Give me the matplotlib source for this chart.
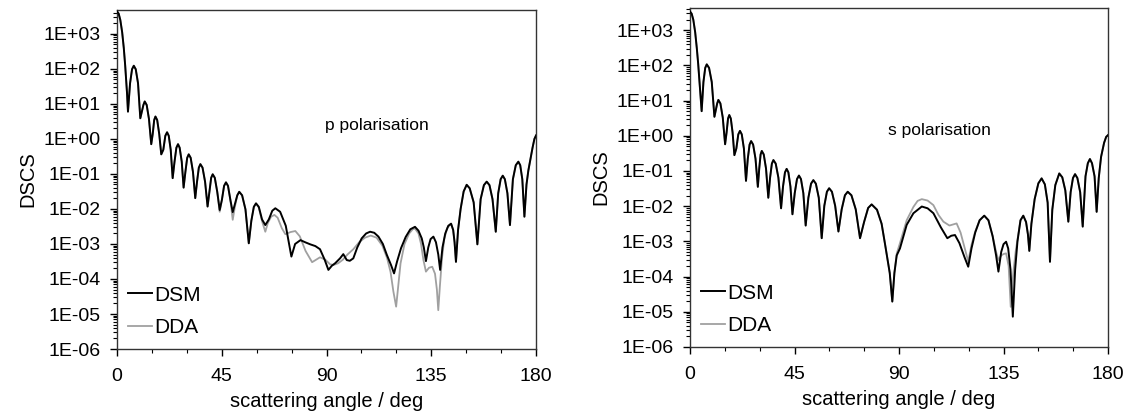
import numpy as np
import matplotlib
matplotlib.use("Agg")
import matplotlib.pyplot as plt
from matplotlib.ticker import FixedLocator, LogLocator, NullFormatter, MultipleLocator

# ---- values: angle in deg, DSCS given as log10 ----
# p polarisation, DSM
p_dsm_ang = [0.0, 0.7, 1.4, 2.2, 2.9, 3.5, 3.9, 4.3, 4.7, 5.6, 6.45, 7.2, 8.04, 9.02, 10.0,
             11.33, 11.9, 12.74, 13.72, 14.7, 15.33, 15.96, 16.5, 17.25, 18.13, 19.0,
             19.88, 20.75, 21.5, 22.22, 23.06, 23.9, 24.7, 25.5, 26.2, 26.9, 27.8, 28.6,
             29.37, 30.14, 30.8, 31.64, 32.62, 33.6, 34.37, 35.14, 35.8, 36.73, 37.82, 38.9,
             39.67, 40.44, 41.1, 42.0, 43.05, 44.1, 45.05, 45.99, 46.8, 47.67, 48.69, 49.7,
             51.66, 52.5, 53.73, 55.17, 56.6, 57.69, 58.77, 59.7, 60.9, 62.3, 63.7,
             65.2, 66.7, 68.0, 70.07, 72.49, 74.9, 76.5, 78.8, 80.8, 83.0, 85.2, 87.2, 89.2,
             90.8, 92.3, 93.7, 95.8, 97.2, 98.7, 100.0, 101.5, 103.2, 105.1, 107.0, 108.7,
             110.5, 112.3, 114.2, 115.9, 117.7, 119.0, 120.3, 122.0, 124.0, 126.0, 128.0,
             129.5, 130.9, 131.8, 132.7, 133.7, 134.7, 135.9, 137.0, 138.0, 138.8, 139.8,
             141.0, 142.3, 143.5, 144.4, 145.0, 145.6, 146.5, 147.6, 148.9, 150.2, 151.5,
             153.2, 154.8, 156.2, 157.6, 158.8, 160.0, 161.3, 162.7, 163.75, 164.8, 165.7,
             166.6, 167.7, 168.8, 170.06, 171.3, 172.4, 173.2, 174.1, 175.0, 175.9, 176.7,
             177.4, 178.5, 179.3, 180.0]
p_dsm_log = [3.64, 3.58, 3.40, 3.05, 2.60, 2.10, 1.70, 1.30, 0.78, 1.59, 1.99, 2.09, 1.99, 1.59, 0.59,
             0.97, 1.07, 0.97, 0.57, -0.15, 0.14, 0.54, 0.64, 0.54, 0.14, -0.44,
             -0.31, 0.09, 0.19, 0.09, -0.31, -1.12, -0.65, -0.25, -0.15, -0.25, -0.65, -1.39,
             -0.94, -0.54, -0.44, -0.54, -0.94, -1.69, -1.22, -0.82, -0.72, -0.82, -1.22, -1.93,
             -1.51, -1.11, -1.01, -1.11, -1.51, -2.03, -1.74, -1.34, -1.24, -1.34, -1.74, -2.09,
             -1.61, -1.51, -1.61, -2.01, -2.98, -2.34, -1.94, -1.84, -1.94, -2.30, -2.46,
             -2.30, -2.05, -1.98, -2.08, -2.48, -3.36, -3.00, -2.89, -2.95, -3.01, -3.06, -3.15,
             -3.45, -3.74, -3.62, -3.55, -3.41, -3.29, -3.46, -3.48, -3.41, -3.10, -2.84,
             -2.70, -2.65, -2.68, -2.79, -3.00, -3.31, -3.60, -3.84, -3.50, -3.12, -2.80,
             -2.58, -2.51, -2.62, -2.84, -3.10, -3.49, -3.10, -2.86, -2.79, -2.95, -3.30,
             -3.74, -3.10, -2.70, -2.48, -2.42, -2.60, -2.95, -3.51, -2.60, -2.00, -1.50,
             -1.31, -1.41, -1.81, -3.01, -1.72, -1.32, -1.22, -1.32, -1.72, -2.65, -1.55,
             -1.15, -1.05, -1.15, -1.55, -2.46, -1.15, -0.75, -0.65, -0.75, -1.15, -2.22,
             -1.30, -0.90, -0.65, -0.25, 0.00, 0.10]

# p polarisation, DDA where it departs from DSM (44-144 deg)
p_dda_mid_ang = [44.1, 45.05, 45.99, 46.8, 47.67, 48.69, 49.7, 50.6, 51.66, 52.5, 53.73, 55.17,
                 56.6, 57.69, 58.77, 59.7, 60.9, 62.3, 63.7, 64.8, 66.2, 67.6, 69.0, 70.8, 72.3,
                 74.5, 76.6, 78.5, 81.0, 83.8, 85.5, 87.2, 89.5, 91.5, 93.0, 95.0, 97.0, 99.0,
                 101.5, 104.0, 106.5, 109.0, 111.5, 114.0, 116.0, 117.5, 118.7, 119.9, 120.8,
                 121.8, 123.5, 125.5, 127.0, 128.0, 129.5, 130.6, 131.6, 132.7, 134.0, 135.4,
                 136.6, 137.4, 138.0, 138.7, 139.6, 140.6, 141.8, 143.5]
p_dda_mid_log = [-2.08, -1.74, -1.34, -1.24, -1.34, -1.74, -2.31, -1.95, -1.61, -1.51, -1.61,
                 -2.01, -2.98, -2.34, -1.94, -1.84, -1.96, -2.35, -2.65, -2.40, -2.22, -2.17,
                 -2.25, -2.55, -2.72, -2.66, -2.63, -2.78, -3.20, -3.52, -3.45, -3.38, -3.45,
                 -3.58, -3.60, -3.55, -3.45, -3.30, -3.15, -2.95, -2.82, -2.76, -2.82, -3.05,
                 -3.40, -3.80, -4.35, -4.79, -4.20, -3.55, -3.00, -2.70, -2.58, -2.56, -2.70,
                 -3.00, -3.45, -3.79, -3.68, -3.65, -3.85, -4.30, -4.89, -4.20, -3.40, -2.85,
                 -2.55, -2.42]

# s polarisation, DSM
s_dsm_ang = [0.0, 0.7, 1.4, 2.2, 2.9, 3.5, 4.0, 4.5, 5.0, 5.77, 6.54, 7.2, 8.19, 9.35, 10.5,
             11.69, 12.2, 13.07, 14.09, 15.1, 15.73, 16.36, 16.9, 17.56, 18.33, 19.1,
             19.94, 20.78, 21.5, 22.28, 23.19, 24.1, 24.87, 25.64, 26.3, 27.17, 28.19, 29.2,
             29.8, 30.39, 30.9, 31.74, 32.72, 33.7, 34.47, 35.24, 35.9, 36.89, 38.05, 39.2,
             40.04, 40.88, 41.6, 42.35, 43.23, 44.1, 45.08, 46.06, 46.9, 47.77, 48.79, 49.8,
             50.96, 52.11, 53.1, 54.18, 55.44, 56.7, 57.82, 58.94, 59.9, 61.1, 62.5, 63.9,
             65.3, 66.7, 67.9, 69.5, 71.35, 73.2, 74.95, 76.7, 78.2, 80.5, 82.5, 84.0, 86.0,
             87.1, 88.0, 89.0, 90.4, 93.3, 96.2, 99.8, 102.3, 104.8, 108.0, 110.8, 112.5,
             114.1, 116.0, 118.2, 119.8, 121.2, 122.8, 124.7, 126.7, 128.5, 130.3, 131.8,
             132.8, 134.0, 135.0, 136.1, 137.0, 138.0, 139.0, 140.0, 141.0, 142.3, 143.5,
             144.7, 145.5, 146.1, 147.0, 148.4, 150.0, 151.4, 152.8, 154.0, 155.0, 156.0,
             157.3, 159.0, 160.3, 161.6, 162.9, 163.9, 164.9, 165.8, 166.8, 168.0, 169.1,
             170.3, 171.3, 172.2, 173.1, 174.2, 175.1, 176.0, 177.0, 178.3, 179.2, 180.0]
s_dsm_log = [3.53, 3.47, 3.30, 2.95, 2.50, 2.05, 1.60, 1.15, 0.70, 1.53, 1.93, 2.03, 1.93, 1.53, 0.54,
             0.92, 1.02, 0.92, 0.52, -0.24, 0.09, 0.49, 0.59, 0.49, 0.09, -0.55,
             -0.36, 0.04, 0.14, 0.04, -0.36, -1.28, -0.65, -0.25, -0.15, -0.25, -0.65, -1.45,
             -0.93, -0.53, -0.43, -0.53, -0.93, -1.76, -1.19, -0.79, -0.69, -0.79, -1.19, -2.06,
             -1.44, -1.04, -0.94, -1.04, -1.44, -2.23, -1.63, -1.23, -1.13, -1.23, -1.63, -2.55,
             -1.76, -1.36, -1.26, -1.36, -1.76, -2.91, -1.99, -1.59, -1.49, -1.59, -1.99, -2.72,
             -2.09, -1.69, -1.59, -1.69, -2.09, -2.91, -2.45, -2.05, -1.95, -2.10, -2.50, -3.09,
             -3.90, -4.71, -3.90, -3.40, -3.20, -2.53, -2.20, -2.01, -2.06, -2.20, -2.60, -2.91,
             -2.84, -2.82, -3.05, -3.45, -3.72, -3.20, -2.75, -2.40, -2.27, -2.40, -2.85, -3.40,
             -3.86, -3.30, -3.08, -3.01, -3.20, -3.80, -5.14, -3.80, -3.00, -2.40, -2.27,
             -2.45, -2.80, -3.27, -2.50, -1.80, -1.35, -1.21, -1.38, -1.90, -3.58, -2.10,
             -1.40, -1.07, -1.18, -1.55, -2.44, -1.60, -1.20, -1.09, -1.20, -1.60, -2.58,
             -1.15, -0.78, -0.66, -0.78, -1.15, -2.16, -1.20, -0.60, -0.20, -0.03, 0.02]

# s polarisation, DDA where it departs from DSM (89-141 deg)
s_dda_mid_ang = [89.0, 90.4, 93.3, 96.2, 98.0, 99.8, 102.3, 104.8, 107.0, 109.1, 111.7, 114.8,
                 116.5, 118.3, 119.8, 121.2, 122.8, 124.7, 126.7, 128.5, 130.3, 131.8, 132.8,
                 134.0, 135.0, 136.1, 137.2, 138.1, 139.2, 140.2, 141.0]
s_dda_mid_log = [-3.35, -3.05, -2.40, -2.02, -1.85, -1.80, -1.84, -1.97, -2.25, -2.44, -2.55,
                 -2.49, -2.75, -3.20, -3.57, -3.10, -2.72, -2.40, -2.27, -2.40, -2.85, -3.30,
                 -3.53, -3.40, -3.36, -3.34, -3.70, -4.86, -3.90, -3.30, -2.95]

ytick_exp = [-6, -5, -4, -3, -2, -1, 0, 1, 2, 3]
xticks = [0, 45, 90, 135, 180]


def splice(base_ang, base_log, mid_ang, mid_log):
    # DDA sits on top of DSM outside the span read separately
    lo, hi = mid_ang[0], mid_ang[-1]
    head = [(a, v) for a, v in zip(base_ang, base_log) if a < lo]
    tail = [(a, v) for a, v in zip(base_ang, base_log) if a > hi]
    pts = head + list(zip(mid_ang, mid_log)) + tail
    return [a for a, _ in pts], [v for _, v in pts]


p_dda_ang, p_dda_log = splice(p_dsm_ang, p_dsm_log, p_dda_mid_ang, p_dda_mid_log)
s_dda_ang, s_dda_log = splice(s_dsm_ang, s_dsm_log, s_dda_mid_ang, s_dda_mid_log)

plt.rcParams['font.family'] = ['Liberation Sans', 'DejaVu Sans']

fig = plt.figure(figsize=(11.34, 4.18), dpi=100)
ax1 = fig.add_axes([0.1032, 0.165, 0.3695, 0.811])
ax2 = fig.add_axes([0.6085, 0.170, 0.3686, 0.811])

panels = [
    (ax1, p_dsm_ang, p_dsm_log, p_dda_ang, p_dda_log, "p polarisation", (0.496, 0.658), 4800),
    (ax2, s_dsm_ang, s_dsm_log, s_dda_ang, s_dda_log, "s polarisation", (0.474, 0.637), 4300),
]

for ax, xa, ya, xb, yb, note, pos, ytop in panels:
    ax.plot(xb, 10.0 ** np.array(yb), color='#a0a0a0', lw=1.3, label='DDA', zorder=2)
    ax.plot(xa, 10.0 ** np.array(ya), color='black', lw=1.4, label='DSM', zorder=3)
    ax.set_yscale('log')
    ax.set_xlim(0, 180)
    ax.set_ylim(1e-6, ytop)
    ax.xaxis.set_major_locator(FixedLocator(xticks))
    ax.xaxis.set_minor_locator(MultipleLocator(15))
    ax.yaxis.set_major_locator(FixedLocator([10.0 ** e for e in ytick_exp]))
    ax.set_yticklabels([f"1E{e:+03d}" for e in ytick_exp])
    ax.yaxis.set_minor_locator(LogLocator(base=10, subs=range(2, 10), numticks=20))
    ax.yaxis.set_minor_formatter(NullFormatter())
    ax.tick_params(axis='both', which='major', direction='out', length=5, width=1, labelsize=14)
    ax.tick_params(axis='both', which='minor', direction='out', length=3, width=0.8)
    ax.tick_params(axis='x', which='major', pad=9)
    ax.tick_params(axis='y', which='major', pad=7)
    for sp in ax.spines.values():
        sp.set_linewidth(1.0)
        sp.set_color('#333333')
    ax.set_xlabel("scattering angle / deg", fontsize=14.5, labelpad=5)
    ax.set_ylabel("DSCS", fontsize=14.5, labelpad=4)
    ax.text(pos[0], pos[1], note, transform=ax.transAxes, fontsize=12.5, va='center', ha='left')
    h, l = ax.get_legend_handles_labels()
    ax.legend(h[::-1], l[::-1], loc='lower left', bbox_to_anchor=(0.026, 0.035), frameon=False,
              fontsize=15, handlelength=1.15, handletextpad=0.1, labelspacing=0.65,
              borderpad=0, borderaxespad=0)

fig.savefig("out.png", dpi=100)
